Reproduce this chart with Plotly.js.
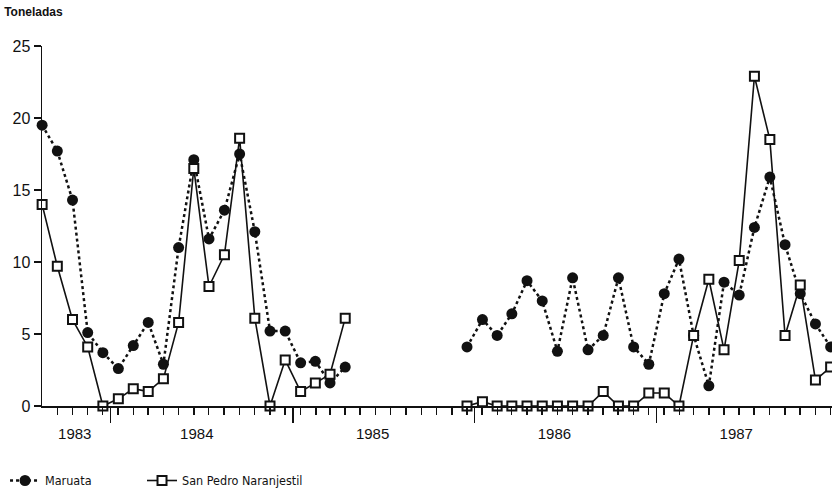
<!DOCTYPE html>
<html>
<head>
<meta charset="utf-8">
<script src="https://cdn.plot.ly/plotly-3.0.1.min.js"></script>
<style>html,body{margin:0;padding:0;background:#fff;}#chart{width:832px;height:491px;}</style>
</head>
<body>
<div id="chart"></div>
<script>
// Months of the two observed periods
const months1 = ["1983-08","1983-09","1983-10","1983-11","1983-12",
  "1984-01","1984-02","1984-03","1984-04","1984-05","1984-06","1984-07","1984-08","1984-09","1984-10","1984-11","1984-12",
  "1985-01","1985-02","1985-03","1985-04"];
const months2 = ["1985-12",
  "1986-01","1986-02","1986-03","1986-04","1986-05","1986-06","1986-07","1986-08","1986-09","1986-10","1986-11","1986-12",
  "1987-01","1987-02","1987-03","1987-04","1987-05","1987-06","1987-07","1987-08","1987-09","1987-10","1987-11","1987-12"];

// Toneladas
const maruata1 = [19.5, 17.7, 14.3, 5.1, 3.7, 2.6, 4.2, 5.8, 2.9, 11.0, 17.1, 11.6, 13.6, 17.5, 12.1, 5.2, 5.2, 3.0, 3.1, 1.6, 2.7];
const maruata2 = [4.1, 6.0, 4.9, 6.4, 8.7, 7.3, 3.8, 8.9, 3.9, 4.9, 8.9, 4.1, 2.9, 7.8, 10.2, 4.9, 1.4, 8.6, 7.7, 12.4, 15.9, 11.2, 7.8, 5.7, 4.1];
const sanPedro1 = [14.0, 9.7, 6.0, 4.1, 0, 0.5, 1.2, 1.0, 1.9, 5.8, 16.5, 8.3, 10.5, 18.6, 6.1, 0, 3.2, 1.0, 1.6, 2.2, 6.1];
const sanPedro2 = [0, 0.3, 0, 0, 0, 0, 0, 0, 0, 1.0, 0, 0, 0.9, 0.9, 0, 4.9, 8.8, 3.9, 10.1, 22.9, 18.5, 4.9, 8.4, 1.8, 2.7];

const seriesNames = ["Maruata", "San Pedro Naranjestil"];
const yTicks = [0, 5, 10, 15, 20, 25];
const yearBounds = ["1984-01-01", "1985-01-01", "1986-01-01", "1987-01-01"];
const yearLabelPos = ["1983-10-21", "1984-06-22", "1985-06-10", "1986-06-10", "1987-06-10"];
const yearLabels = ["1983", "1984", "1985", "1986", "1987"];

const gap = [null];
const xRange = ["1983-08-16 06:00", "1987-12-19 06:00"];
const tickFont = {family: "Liberation Sans, Arial, sans-serif", size: 15, color: "#111"};
const legendFont = {family: "DejaVu Sans Condensed, DejaVu Sans, sans-serif", size: 12.5, color: "#111"};

const traces = [
  {
    type: "scatter", mode: "lines+markers", name: seriesNames[0], legend: "legend",
    x: months1.concat(gap, months2), y: maruata1.concat(gap, maruata2),
    xperiod: "M1", xperiodalignment: "middle",
    line: {color: "#111", width: 2.5, dash: "dot"},
    marker: {symbol: "circle", size: 11, color: "#111"},
    cliponaxis: false, connectgaps: false
  },
  {
    type: "scatter", mode: "lines+markers", name: seriesNames[1], legend: "legend2",
    x: months1.concat(gap, months2), y: sanPedro1.concat(gap, sanPedro2),
    xperiod: "M1", xperiodalignment: "middle",
    line: {color: "#111", width: 1.6},
    marker: {symbol: "square", size: 9, color: "#fff", line: {color: "#111", width: 2}},
    cliponaxis: false, connectgaps: false
  }
];

// invisible helper trace on xaxis2 so the year-label axis is drawn
traces.push({type: "scatter", x: [xRange[0]], y: [0], xaxis: "x2", yaxis: "y", mode: "markers",
  marker: {opacity: 0}, showlegend: false, hoverinfo: "skip"});

const layout = {
  width: 832, height: 491,
  margin: {l: 42, r: 0, t: 46, b: 85, autoexpand: false},
  paper_bgcolor: "#fff", plot_bgcolor: "#fff",
  showlegend: true,
  title: {
    text: "<b>Toneladas</b>", xref: "container", yref: "container",
    x: 0.005, xanchor: "left", y: 0.976, yanchor: "middle",
    font: {family: "Liberation Sans, Arial, sans-serif", size: 12, color: "#111"}
  },
  xaxis: {
    type: "date", range: xRange,
    showgrid: false, zeroline: false,
    showline: true, linecolor: "#111", linewidth: 2,
    tickmode: "array", tickvals: yearBounds, ticktext: yearBounds.map(() => ""),
    ticks: "outside", ticklen: 15, tickwidth: 1.5, tickcolor: "#111",
    minor: {ticks: "outside", ticklen: 7, tickwidth: 1.5, tickcolor: "#111", tick0: "1983-08-16", dtick: "M1", showgrid: false}
  },
  xaxis2: {
    type: "date", range: xRange, overlaying: "x", anchor: "y", side: "bottom",
    showgrid: false, zeroline: false, showline: false,
    tickmode: "array", tickvals: yearLabelPos, ticktext: yearLabels,
    ticks: "outside", ticklen: 14, tickcolor: "rgba(0,0,0,0)",
    tickfont: tickFont
  },
  yaxis: {
    range: [0, 25], showgrid: false, zeroline: false,
    showline: true, linecolor: "#111", linewidth: 1.5,
    tickmode: "array", tickvals: yTicks, ticktext: yTicks.map(String),
    ticks: "outside", ticklen: 7, tickwidth: 1.5, tickcolor: "#111",
    tickfont: {family: "Liberation Sans, Arial, sans-serif", size: 16, color: "#111"}
  },
  legend: {
    orientation: "h", x: -0.0468, xanchor: "left", y: -0.208, yanchor: "middle",
    font: legendFont, bgcolor: "rgba(0,0,0,0)"
  },
  legend2: {
    orientation: "h", x: 0.1266, xanchor: "left", y: -0.208, yanchor: "middle",
    font: legendFont, bgcolor: "rgba(0,0,0,0)"
  }
};

Plotly.newPlot("chart", traces, layout, {staticPlot: true, displayModeBar: false});
</script>
</body>
</html>
